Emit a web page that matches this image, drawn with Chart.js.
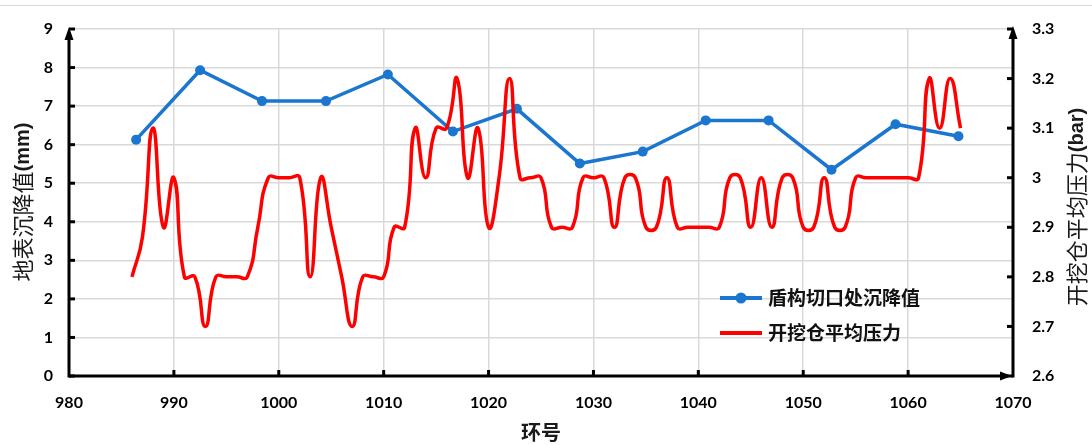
<!DOCTYPE html>
<html>
<head>
<meta charset="utf-8">
<script src="https://cdn.jsdelivr.net/npm/chart.js@4.4.1/dist/chart.umd.min.js"></script>
<style>
  html, body { margin: 0; padding: 0; background: #fff; }
  #wrap { width: 1092px; height: 445px; position: relative; }
</style>
</head>
<body>
<div id="wrap"><canvas id="chart"></canvas></div>
<script>
// 盾构切口处沉降值 (mm)
const settleRings = [986.4, 992.5, 998.4, 1004.5, 1010.4, 1016.6, 1022.7, 1028.7, 1034.7, 1040.7, 1046.7, 1052.7, 1058.8, 1064.8]
const settleValues = [6.13, 7.93, 7.13, 7.13, 7.82, 6.34, 6.93, 5.51, 5.82, 6.63, 6.63, 5.35, 6.53, 6.22]

// 开挖仓平均压力 (bar), one per ring
const pressureRings = [
  986, 987, 988, 989, 990, 991, 992, 993, 994, 995, 996, 997, 998, 999,
  1000, 1001, 1002, 1003, 1004, 1005, 1006, 1007, 1008, 1009, 1010, 1011, 1012, 1013, 1014, 1015,
  1016, 1017, 1018, 1019, 1020, 1021, 1022, 1023, 1024, 1025, 1026, 1027, 1028, 1029, 1030, 1031,
  1032, 1033, 1034, 1035, 1036, 1037, 1038, 1039, 1040, 1041, 1042, 1043, 1044, 1045, 1046, 1047,
  1048, 1049, 1050, 1051, 1052, 1053, 1054, 1055, 1056, 1057, 1058, 1059, 1060, 1061, 1062, 1063,
  1064, 1065
]
const pressureValues = [
  2.8, 2.88, 3.1, 2.9, 3.0, 2.8, 2.8, 2.7, 2.8, 2.8, 2.8, 2.8, 2.9, 3.0,
  3.0, 3.0, 3.0, 2.8, 3.0, 2.9, 2.8, 2.7, 2.8, 2.8, 2.8, 2.9, 2.9, 3.1, 3.0, 3.1,
  3.1, 3.2, 3.0, 3.1, 2.9, 3.0, 3.2, 3.0, 3.0, 3.0, 2.9, 2.9, 2.9, 3.0, 3.0, 3.0,
  2.9, 3.0, 3.0, 2.9, 2.9, 3.0, 2.9, 2.9, 2.9, 2.9, 2.9, 3.0, 3.0, 2.9, 3.0, 2.9,
  3.0, 3.0, 2.9, 2.9, 3.0, 2.9, 2.9, 3.0, 3.0, 3.0, 3.0, 3.0, 3.0, 3.0, 3.2, 3.1,
  3.2, 3.1
]

const xTicks = [980, 990, 1000, 1010, 1020, 1030, 1040, 1050, 1060, 1070]
const leftTicks = [0, 1, 2, 3, 4, 5, 6, 7, 8, 9]
const rightTicks = [2.6, 2.7, 2.8, 2.9, 3.0, 3.1, 3.2, 3.3]

const tickFont = { family: 'Lato', size: 16, weight: 'bold' }

function line(ctx, x1, y1, x2, y2) {
  ctx.beginPath()
  ctx.moveTo(x1, y1)
  ctx.lineTo(x2, y2)
  ctx.stroke()
}

function tri(ctx, pts) {
  ctx.beginPath()
  ctx.moveTo(pts[0], pts[1])
  ctx.lineTo(pts[2], pts[3])
  ctx.lineTo(pts[4], pts[5])
  ctx.closePath()
  ctx.fill()
}

// rotated title made of parts with their own fonts
function vTitle(ctx, cx, cy, parts) {
  let total = 0
  parts.forEach(p => { ctx.font = p.font; p.w = ctx.measureText(p.text).width; total += p.w })
  ctx.save()
  ctx.translate(cx, cy)
  ctx.rotate(-Math.PI / 2)
  ctx.textAlign = 'left'
  ctx.textBaseline = 'middle'
  let x = -total / 2
  parts.forEach(p => { ctx.font = p.font; ctx.fillText(p.text, x, 0); x += p.w })
  ctx.restore()
}

const decor = {
  id: 'decor',
  afterDraw(chart) {
    const { ctx, chartArea: a, scales } = chart
    ctx.save()

    // outer frame line at top
    ctx.strokeStyle = '#d9d9d9'
    ctx.lineWidth = 1
    line(ctx, 0, 5.5, 1092, 5.5)

    // axes with arrows
    ctx.strokeStyle = '#000'
    ctx.fillStyle = '#000'
    ctx.lineWidth = 3
    line(ctx, a.left, a.bottom + 1.5, a.left, a.top + 8)
    line(ctx, a.left, a.bottom, a.right - 8, a.bottom)
    line(ctx, a.right, a.bottom + 1.5, a.right, a.top + 8)
    tri(ctx, [a.left, a.top - 2, a.left - 4.5, a.top + 11, a.left + 4.5, a.top + 11])
    tri(ctx, [a.right, a.top - 3, a.right - 4.5, a.top + 10, a.right + 4.5, a.top + 10])
    tri(ctx, [a.right - 1, a.bottom, a.right - 13, a.bottom - 4.5, a.right - 13, a.bottom + 4.5])

    // inward tick marks
    leftTicks.forEach(v => {
      const y = scales.y.getPixelForValue(v)
      line(ctx, a.left, y, a.left + 6, y)
    })
    rightTicks.forEach(v => {
      const y = scales.y2.getPixelForValue(v)
      line(ctx, a.right - 6, y, a.right, y)
    })
    xTicks.slice(1, -1).forEach(v => {
      const x = scales.x.getPixelForValue(v)
      line(ctx, x, a.bottom, x, a.bottom - 6)
    })

    // axis titles
    ctx.fillStyle = '#1a1a1a'
    vTitle(ctx, 23, 202, [
      { text: '地表沉降值', font: '22px "Noto Sans CJK SC"' },
      { text: '(mm)', font: 'bold 20px "Liberation Sans"' }
    ])
    vTitle(ctx, 1077, 207, [
      { text: '开挖仓平均压力', font: '22px "Noto Sans CJK SC"' },
      { text: '(bar)', font: 'bold 20px "Liberation Sans"' }
    ])
    ctx.font = 'bold 20px "Noto Sans CJK SC"'
    ctx.textAlign = 'center'
    ctx.textBaseline = 'middle'
    ctx.fillText('环号', (a.left + a.right) / 2, 432)

    // legend inside plot
    const items = [chart.data.datasets[1], chart.data.datasets[0]]
    items.forEach((ds, i) => {
      const y = 298 + i * 35
      ctx.strokeStyle = ds.borderColor
      ctx.lineWidth = 4
      line(ctx, 720, y, 762, y)
      if (ds.pointRadius > 0) {
        ctx.fillStyle = ds.borderColor
        ctx.beginPath()
        ctx.arc(741, y, 5.5, 0, Math.PI * 2)
        ctx.fill()
      }
      ctx.fillStyle = '#111'
      ctx.font = 'bold 19px "Noto Sans CJK SC"'
      ctx.textAlign = 'left'
      ctx.textBaseline = 'middle'
      ctx.fillText(ds.label, 768, y)
    })
    ctx.restore()
  }
}

const config = {
  type: 'line',
  data: {
    datasets: [
      {
        label: '开挖仓平均压力',
        data: pressureRings.map((x, i) => ({ x: x, y: pressureValues[i] })),
        yAxisID: 'y2',
        borderColor: '#ff0000',
        borderWidth: 3.5,
        pointRadius: 0,
        tension: 0.5,
      },
      {
        label: '盾构切口处沉降值',
        data: settleRings.map((x, i) => ({ x: x, y: settleValues[i] })),
        yAxisID: 'y',
        borderColor: '#1a76cf',
        backgroundColor: '#1a76cf',
        borderWidth: 3.5,
        pointRadius: 5,
        pointBorderWidth: 0,
        tension: 0,
      },
    ],
  },
  options: {
    responsive: true,
    maintainAspectRatio: false,
    animation: false,
    layout: { padding: { top: 29, left: 0, right: 0, bottom: 0 } },
    plugins: {
      legend: { display: false },
      tooltip: { enabled: false },
    },
    scales: {
      x: {
        type: 'linear',
        min: 980,
        max: 1070,
        afterBuildTicks: s => { s.ticks = xTicks.map(v => ({ value: v })) },
        afterFit: s => { s.height = 69 },
        ticks: { color: '#000', font: tickFont, padding: 17, callback: v => String(v) },
        grid: { color: '#d9d9d9', lineWidth: 1.5, drawTicks: false },
        border: { display: false },
      },
      y: {
        position: 'left',
        min: 0,
        max: 9,
        afterBuildTicks: s => { s.ticks = leftTicks.map(v => ({ value: v })) },
        afterFit: s => { s.width = 69 },
        ticks: { color: '#000', font: tickFont, padding: 16, callback: v => String(v) },
        grid: { color: '#d9d9d9', lineWidth: 1.5, drawTicks: false },
        border: { display: false },
      },
      y2: {
        position: 'right',
        min: 2.6,
        max: 3.3,
        afterBuildTicks: s => { s.ticks = rightTicks.map(v => ({ value: v })) },
        afterFit: s => { s.width = 79 },
        ticks: { color: '#000', font: tickFont, padding: 19, callback: v => String(+v.toFixed(1)) },
        grid: { display: false, drawTicks: false },
        border: { display: false },
      },
    },
  },
  plugins: [decor],
}

const ctx = document.getElementById('chart')
window.myChart = new Chart(ctx, config)
</script>
</body>
</html>
